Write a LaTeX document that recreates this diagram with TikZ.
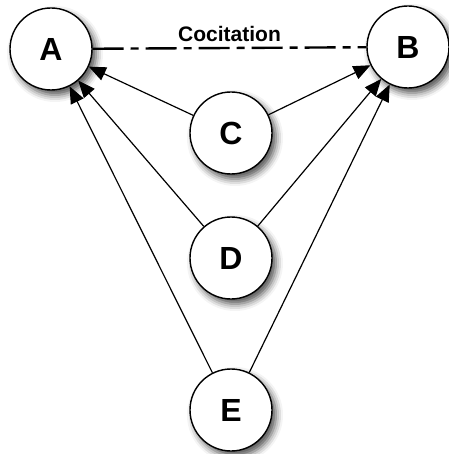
\documentclass[tikz,border=0pt]{standalone}
\usepackage{fontspec}
\setmainfont{Liberation Sans}
\usepackage{tikz}
\usetikzlibrary{positioning,arrows.meta,shadows.blur}

\begin{document}
\begin{tikzpicture}[x=1pt,y=-1pt,
                    doc/.style={circle,draw,fill=white,line width=1.4pt,
                                minimum size=82pt,inner sep=0pt,
                                font=\fontsize{32}{38}\selectfont\bfseries,
                                blur shadow={shadow xshift=4pt,shadow yshift=-5pt,
                                             shadow blur radius=7pt,shadow opacity=70}},
                    cite/.style={-{Triangle[length=17pt,width=14pt]},line width=1.2pt}]
  \useasboundingbox (0,0) rectangle (448,454);

  \node[doc] (A) at (51,49)   {A};
  \node[doc] (B) at (408,47)  {B};
  \node[doc] (C) at (231,133) {C};
  \node[doc] (D) at (231,258) {D};
  \node[doc] (E) at (231,410) {E};

  % co-cited pair
  \draw[line width=2.4pt,dash pattern=on 31pt off 7pt on 8pt off 7pt]
    (A) -- node[above=2pt,font=\fontsize{21}{24}\selectfont\bfseries]{Cocitation} (B);

  % citing documents
  \foreach \src in {C,D,E}{
    \draw[cite] (\src) -- (A);
    \draw[cite] (\src) -- (B);
  }
\end{tikzpicture}
\end{document}
